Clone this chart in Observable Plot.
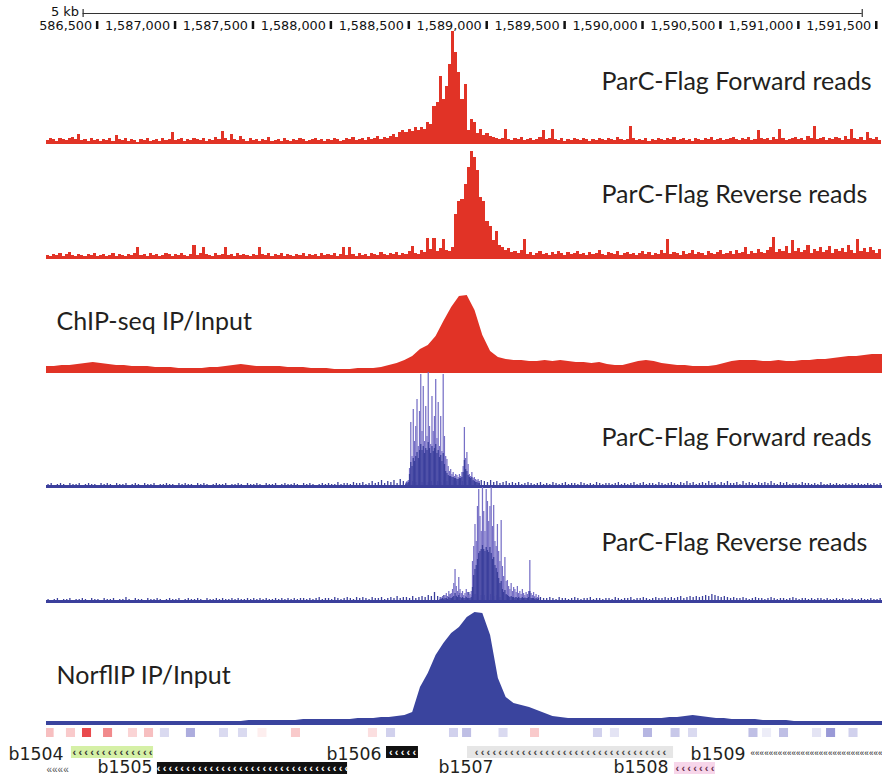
<!DOCTYPE html>
<html><head><meta charset="utf-8">
<script src="https://cdn.jsdelivr.net/npm/d3@7"></script>
<script src="https://cdn.jsdelivr.net/npm/@observablehq/plot@0.6"></script>
<style>
body{margin:0;background:#fff;}
#chart{position:relative;width:882px;height:777px;overflow:hidden;background:#fff;}
#chart svg{position:absolute;left:0;overflow:visible;}
</style></head><body><div id="chart"></div>
<script>
// ---------- data ----------
const domainStart = 1586175, domainEnd = 1591540;
const binSize = 20;
const tickValues = [1586500,1587000,1587500,1588000,1588500,1589000,1589500,1590000,1590500,1591000,1591500];
const tickLabels = ["586,500","1,587,000","1,587,500","1,588,000","1,588,500","1,589,000","1,589,500","1,590,000","1,590,500","1,591,000","1,591,500"];
const scaleBar = [1586410, 1591410];
const scaleBarLabel = "5 kb";

const trackLabels = ["ParC-Flag Forward reads","ParC-Flag Reverse reads","ChIP-seq IP/Input","ParC-Flag Forward reads","ParC-Flag Reverse reads","NorflIP IP/Input"];

// red ParC-Flag forward reads, 20 bp bins from domainStart
const redForward = [
4,6,5,3,6,5,4,6,7,5, 10,4,5,3,6,4,5,3,5,4, 6,3,9,5,4,6,3,5,4,2, 5,4,6,3,4,5,3,6,4,5,
12,4,5,6,3,5,4,6,5,4, 6,3,5,4,7,5,13,6,4,10, 5,4,8,5,3,6,4,5,3,5, 4,7,3,4,5,3,6,4,3,5,
4,6,5,3,4,5,6,4,5,3, 5,4,6,5,3,4,6,5,7,4, 5,6,4,7,5,6,8,5,7,6, 8,10,7,12,14,12,15,13,17,14,
17,15,22,20,38,42,68,45,58,80, 113,92,72,45,60,14,25,22,11,15, 9,11,8,7,6,5,6,15,5,4, 6,5,7,4,5,6,4,5,7,14,
5,6,15,5,4,6,3,5,4,6, 5,4,6,5,3,5,4,6,5,4, 6,5,4,7,5,4,5,18,6,4, 5,4,6,3,5,4,6,5,4,6,
5,7,4,5,6,4,5,3,6,5, 4,6,5,7,4,5,6,4,5,6, 7,5,4,6,5,7,4,5,14,6, 5,6,4,7,5,15,6,4,5,6,
7,5,6,4,8,6,18,5,6,7, 4,6,5,7,6,4,8,5,15,6, 5,7,4,12,6,5,7,4];

// red ParC-Flag reverse reads, 20 bp bins
const redReverse = [
4,3,5,4,6,3,5,7,4,3, 5,4,3,5,4,6,3,4,5,3, 4,6,3,5,4,3,5,4,6,12, 4,5,3,6,4,5,3,4,6,5,
3,5,4,6,4,3,5,14,4,6, 12,5,4,3,6,4,5,12,4,5, 3,6,4,5,4,3,5,4,12,5, 4,6,3,5,4,6,3,5,4,3,
5,4,6,3,5,4,5,3,6,4, 5,4,6,3,5,12,4,12,5,3, 6,4,5,3,6,5,4,7,5,4, 6,5,7,4,6,5,8,13,6,5,
9,7,21,10,21,8,11,20,9,8, 12,45,58,60,75,92,108,102,89,62, 58,38,33,19,28,14,12,9,11,7, 8,6,9,20,5,7,4,6,8,5,
6,4,7,5,8,6,4,7,5,6, 8,5,6,4,7,5,6,9,5,4, 7,6,5,8,4,6,7,5,6,4, 6,8,5,7,4,6,5,9,6,20,
5,7,6,4,8,5,6,9,5,7, 6,4,8,6,5,7,9,5,6,8, 5,9,6,7,12,5,8,6,10,7, 6,9,12,22,7,10,8,13,6,19,
8,11,7,9,14,6,10,8,12,7, 9,13,6,10,8,11,7,14,9,6, 20,8,11,7,12,9,6,10];

// ChIP-seq IP/Input, sampled every 50 bp
const chipStep = 50;
const chipRatio = [
7,7,8,8,9,10,11,10,9,8, 8,7,7,7,6,6,6,5,5,5, 5,6,6,7,8,9,8,7,7,7, 7,6,6,6,5,5,5,4,4,4,
5,5,5,6,8,10,13,17,24,28, 37,52,66,77,78,63,38,22,16,14, 13,13,12,12,13,12,13,12,11,11, 10,11,9,8,8,10,12,13,12,10,
9,8,8,7,7,7,8,10,12,13, 13,13,12,12,13,12,12,13,13,14, 14,15,16,17,17,18,19,19,19];

// blue ParC-Flag forward: background (20 bp bins) + peak detail (8 bp bins)
const blueForwardBg = [
2,3,1,2,3,2,1,3,2,2, 3,1,2,3,2,2,1,3,2,3, 2,1,3,2,2,3,1,2,3,2, 1,3,2,2,3,1,2,2,3,2,
2,1,3,2,3,2,2,1,3,2, 3,2,1,2,3,2,2,3,1,2, 2,3,2,1,3,2,2,3,2,1, 3,2,2,3,1,2,3,2,2,3,
2,1,3,2,3,2,1,2,3,2, 3,2,2,4,2,3,3,2,4,3, 3,4,2,3,5,3,4,6,3,5, 4,6,3,7,5,4,6,5,4,3,
4,5,4,5,6,5,4,6,5,4, 6,5,4,5,4,6,5,4,5,6, 5,4,6,4,5,3,4,5,3,4, 3,4,2,3,4,3,2,3,4,2,
3,2,4,3,2,3,4,2,3,3, 2,4,3,2,3,2,4,3,2,3, 3,2,3,4,2,3,2,3,4,2, 3,4,2,3,3,2,4,3,2,3,
4,3,2,4,3,5,3,4,2,3, 4,3,5,3,4,2,4,3,5,3, 3,4,2,5,3,4,3,2,4,3, 4,3,5,3,2,4,3,4,2,3,
3,2,4,3,3,2,3,2,4,2, 2,3,2,3,2,2,3,2,3,2, 3,2,2,3,2,3,2,3];
const blueForwardStart = 1588480, fineStep = 8;
const blueForwardLight = [
3,5,6,18,64,30,77,45,60,87, 40,75,112,55,100,45,80,50,114,60, 42,90,55,70,107,48,84,40,70,35,
112,50,30,27,20,15,17,12,14,10, 12,11,9,12,10,14,20,59,28,34, 22,12,10,14,8,9,7,6,7,5];
const blueForwardDark = [
2,3,4,12,24,20,28,25,30,34, 28,36,42,36,40,33,38,36,44,38, 33,40,35,38,42,33,36,29,31,25,
33,22,15,13,11,10,10,9,9,8, 8,7,7,8,8,9,14,26,17,15, 11,9,8,9,6,5,4,4,3,3];

// blue ParC-Flag reverse
const blueReverseBg = [
2,1,2,3,1,2,2,3,1,2, 2,3,2,1,3,2,2,1,3,2, 2,3,1,2,2,4,2,1,3,2, 2,1,3,2,2,3,2,1,2,3,
2,2,3,1,2,3,2,2,3,2, 1,3,2,2,3,2,3,2,2,3, 2,3,2,2,3,2,3,2,3,2, 3,2,2,3,2,3,2,3,2,3,
2,3,3,2,3,2,3,4,2,3, 3,2,4,3,2,3,4,3,2,4, 3,4,3,2,4,3,3,4,2,3, 4,3,5,3,4,4,3,5,3,4,
5,4,6,5,9,5,4,6,5,7, 5,6,8,6,5,9,6,7,5,6, 6,5,7,5,6,4,5,6,4,5, 4,5,3,4,5,3,4,3,4,3,
3,4,3,2,4,3,3,2,3,4, 3,2,3,3,4,2,3,3,2,3, 3,2,4,3,2,3,3,4,2,3, 3,4,3,2,3,4,3,3,4,3,
4,3,4,5,3,4,5,4,5,4, 5,6,5,7,6,5,4,5,4,3, 4,3,3,4,3,2,3,4,3,3, 2,3,4,3,2,3,3,2,3,4,
3,2,3,3,2,3,2,3,3,2, 3,2,2,3,2,3,2,2,3,2, 2,3,2,2,3,2,2,3];
const blueReverseStart = 1588700;
const blueReverseLight = [
4,3,5,4,6,8,5,10,6,8, 12,18,32,15,10,24,12,8,10,6, 8,12,9,6,7,10,40,55,77,60,
95,112,85,70,114,90,70,112,100,80, 95,114,75,96,60,55,77,50,40,81, 35,25,44,20,21,15,12,18,10,14,
12,9,15,8,10,7,12,8,6,9, 7,10,41,8,6,9,5,7,4,6];
const blueReverseDark = [
2,2,3,2,3,3,2,4,3,3, 4,5,8,5,4,6,4,3,4,3, 3,4,3,3,3,4,14,26,32,36,
42,48,50,52,56,52,50,54,51,49, 54,48,42,44,36,33,29,23,18,20, 12,9,11,7,6,5,4,5,4,4,
3,4,3,4,3,3,4,3,3,3, 3,4,10,3,3,3,2,3,2,3];

// NorflIP IP/Input, sampled every 50 bp
const norfRatio = [
4,4,4,4,4,4,4,4,4,4, 4,4,4,4,4,4,4,4,4,4, 4,4,4,4,4,4,5,5,5,5, 5,5,5,6,6,6,6,6,6,6,
7,7,7,8,8,9,10,13,38,52, 70,82,92,98,108,113,112,90,47,28, 22,20,18,15,12,9,8,7,7,7, 7,7,7,7,7,7,7,7,7,7,
8,8,9,10,9,8,7,7,6,6, 6,6,5,5,5,5,4,4,4,4, 4,4,4,4,4,4,4,4,4];

// heat-map cells (centre bp, signed value)
const heatPositions = [1586195,1586332,1586435,1586570,1586730,1586833,1586935,1587102,1587314,1587436,1587561,1587776,1588270,1588386,1588790,1588874,1589108,1589310,1589714,1589823,1590035,1590212,1590324,1590712,1590799,1590908,1591120,1591210,1591354];
const heatValues = [0.3,0.25,0.85,0.55,0.2,0.3,-0.2,-0.45,-0.2,-0.2,0.08,0.25,0.15,-0.25,-0.25,-0.35,-0.2,0.25,-0.25,-0.15,-0.4,-0.3,-0.2,-0.35,-0.1,-0.35,-0.15,-0.55,-0.25];
const heatCellBp = 58;

// genes
const geneNames  = ["", "b1504", "b1505", "b1506", "b1507", "b1508", "b1509"];
const geneStarts = [1586175, 1586335, 1586887, 1588357, 1588877, 1590205, 1590693];
const geneEnds   = [1586316, 1586862, 1588107, 1588562, 1590199, 1590468, 1591540];
const geneRows   = [2, 1, 2, 1, 1, 2, 1];
const labelRows  = [2, 1, 2, 1, 2, 2, 1];
const labelEnds  = [1586175, 1586284, 1586855, 1588325, 1589044, 1590167, 1590661];
const geneFills  = ["none", "#d5f0a6", "#111111", "#111111", "#e6e6e6", "#f7d6ea", "none"];
const chevColors = ["#555", "#333", "#ffffff", "#ffffff", "#444", "#6a3050", "#111"];
const chevCounts = [4, 14, 33, 5, 33, 7, 29];
const chevChars  = ["«", "‹", "‹", "‹", "‹", "‹", "«"];
const chevSizes  = [10, 11, 11, 11, 11, 11, 8.2];

// ---------- drawing ----------
const RED = "#e13326", BLUE = "#3a449e", BLUE_DARK = "#3b3f9c", BLUE_LIGHT = "#7770c6", INK = "#231f20";
const W = 882, ML = 46;
const chart = document.getElementById("chart");

const bins = (vals, start, step) => vals.map((v, i) => ({x1: start + i*step, x2: start + (i+1)*step, v}));
const pts = (vals, start, step) => vals.map((v, i) => ({x: start + i*step, v}));

function addTrack(top, marks) {
  const svg = Plot.plot({
    width: W, height: 125, marginLeft: ML, marginRight: 0, marginTop: 0, marginBottom: 2,
    x: {domain: [domainStart, domainEnd], axis: null},
    y: {domain: [0, 123], axis: null},
    style: {background: "transparent", overflow: "visible"},
    marks
  });
  svg.style.top = top + "px";
  chart.appendChild(svg);
}
function trackLabel(text, dx, dy) {
  return Plot.text([text], {frameAnchor: "top-left", dx, dy, text: d => d, textAnchor: "start",
    lineAnchor: "bottom", fontSize: 25, fontFamily: "Lato", fill: INK});
}

// ruler
{
  const svg = Plot.plot({
    width: W, height: 40, marginLeft: ML, marginRight: 0, marginTop: 0, marginBottom: 0,
    x: {domain: [domainStart, domainEnd], axis: null},
    y: {domain: [0, 40], range: [0, 40], axis: null},
    style: {background: "transparent", overflow: "visible"},
    marks: [
      Plot.ruleY([13], {x1: scaleBar[0], x2: scaleBar[1], stroke: "#333", strokeWidth: 1.2}),
      Plot.ruleX(scaleBar, {y1: 9, y2: 17, stroke: "#333", strokeWidth: 1.2}),
      Plot.text([scaleBarLabel], {x: scaleBar[0], y: 13, dy: -2, text: d => d, textAnchor: "end", dx: -4,
        lineAnchor: "middle", fontSize: 13, fontFamily: "DejaVu Sans", fill: "#111"}),
      Plot.ruleX(tickValues, {y1: 21, y2: 29, stroke: "#111", strokeWidth: 2.5}),
      Plot.text(tickValues, {x: d => d, y: 25, text: (d, i) => tickLabels[i], textAnchor: "end", dx: -5,
        lineAnchor: "middle", fontSize: 12.8, fontFamily: "DejaVu Sans", fill: "#111"})
    ]
  });
  svg.style.top = "0px";
  chart.appendChild(svg);
}

// track 1: red forward
addTrack(21, [
  Plot.rectY(bins(redForward, domainStart, binSize), {x1: "x1", x2: "x2", y: "v", fill: RED, shapeRendering: "crispEdges", clip: true}),
  trackLabel(trackLabels[0], 555, 68)
]);
// track 2: red reverse
addTrack(136, [
  Plot.rectY(bins(redReverse, domainStart, binSize), {x1: "x1", x2: "x2", y: "v", fill: RED, shapeRendering: "crispEdges", clip: true}),
  trackLabel(trackLabels[1], 555, 66)
]);
// track 3: ChIP-seq
addTrack(250, [
  Plot.areaY(pts(chipRatio, domainStart, chipStep), {x: "x", y: "v", fill: RED, clip: true}),
  trackLabel(trackLabels[2], 10, 79)
]);
// track 4: blue forward
addTrack(363, [
  Plot.ruleX(pts(blueForwardBg, domainStart + binSize/2, binSize), {x: "x", y1: 0, y2: "v", stroke: BLUE_DARK, strokeWidth: 1.3, clip: true}),
  Plot.rectY(bins(blueForwardLight, blueForwardStart, fineStep), {x1: "x1", x2: "x2", y: "v", fill: BLUE_LIGHT}),
  Plot.rectY(bins(blueForwardDark, blueForwardStart, fineStep), {x1: "x1", x2: "x2", y: "v", fill: BLUE_DARK}),
  Plot.ruleY([0], {stroke: BLUE_DARK, strokeWidth: 3}),
  trackLabel(trackLabels[3], 555, 82)
]);
// track 5: blue reverse
addTrack(478, [
  Plot.ruleX(pts(blueReverseBg, domainStart + binSize/2, binSize), {x: "x", y1: 0, y2: "v", stroke: BLUE_DARK, strokeWidth: 1.3, clip: true}),
  Plot.rectY(bins(blueReverseLight, blueReverseStart, fineStep), {x1: "x1", x2: "x2", y: "v", fill: BLUE_LIGHT}),
  Plot.rectY(bins(blueReverseDark, blueReverseStart, fineStep), {x1: "x1", x2: "x2", y: "v", fill: BLUE_DARK}),
  Plot.ruleY([0], {stroke: BLUE_DARK, strokeWidth: 3}),
  trackLabel(trackLabels[4], 555, 72)
]);
// track 6: NorflIP
addTrack(602, [
  Plot.areaY(pts(norfRatio, domainStart, chipStep), {x: "x", y: "v", fill: BLUE, clip: true}),
  trackLabel(trackLabels[5], 10, 81)
]);

// heat row + genes
{
  const rowTop = {1: 21, 2: 37}, rowH = 12, heatTop = 3, heatH = 9;
  const labelShift = {1: 1.5, 2: -1};
  const genes = geneNames.map((name, i) => ({name, start: geneStarts[i], end: geneEnds[i], row: geneRows[i],
    labelRow: labelRows[i], labelEnd: labelEnds[i], fill: geneFills[i], chevColor: chevColors[i],
    chev: chevChars[i].repeat(chevCounts[i]), chevChar: chevChars[i], chevSize: chevSizes[i]}));
  const boxed = genes.filter(g => g.fill !== "none");
  const named = genes.filter(g => g.name);
  const heat = heatPositions.map((p, i) => ({x1: p - heatCellBp/2, x2: p + heatCellBp/2, v: heatValues[i]}));
  const svg = Plot.plot({
    width: W, height: 52, marginLeft: ML, marginRight: 0, marginTop: 0, marginBottom: 0,
    x: {domain: [domainStart, domainEnd], axis: null},
    y: {domain: [0, 52], range: [0, 52], axis: null},
    color: {type: "linear", domain: [-1, 0, 1], range: ["#4848b6", "#ffffff", "#e52a2e"]},
    style: {background: "transparent", overflow: "visible"},
    marks: [
      Plot.rect(heat, {x1: "x1", x2: "x2", y1: heatTop, y2: heatTop + heatH, fill: "v", clip: true}),
      Plot.rect(boxed, {x1: "start", x2: "end", y1: d => rowTop[d.row], y2: d => rowTop[d.row] + rowH, fill: d => d.fill, clip: true}),
      Plot.text(genes.filter(g => g.chevChar === "‹"), {x: d => (d.start + d.end) / 2, y: d => rowTop[d.row] + rowH/2,
        text: d => d.chev.split("").join("\u2009"), fill: d => d.chevColor, fontSize: 11, fontWeight: "bold",
        fontFamily: "Liberation Sans", lineAnchor: "middle"}),
      Plot.text(genes.filter(g => g.chevChar === "«"), {x: "start", y: d => rowTop[d.row] + rowH/2, dy: 1,
        text: "chev", fill: d => d.chevColor, fontSize: d => d.chevSize, fontFamily: "Liberation Sans",
        textAnchor: "start", lineAnchor: "middle"}),
      Plot.text(named, {x: "labelEnd", y: d => rowTop[d.labelRow] + rowH/2 + labelShift[d.labelRow], text: "name",
        textAnchor: "end", lineAnchor: "middle", fontSize: 17.3, fontFamily: "DejaVu Sans", fill: INK})
    ]
  });
  svg.style.top = "725px";
  chart.appendChild(svg);
}
</script></body></html>
